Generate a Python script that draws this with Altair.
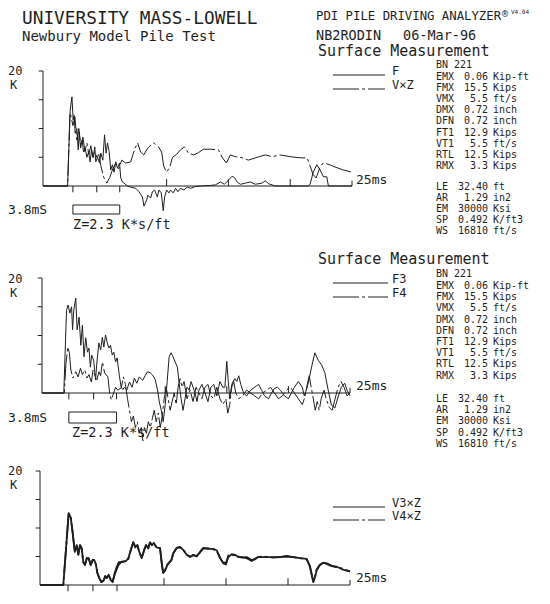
import altair as alt
import pandas as pd

# ---------------- data (time in ms, force in kips) ----------------
P1_F = [(0,0),(1.99,0),(2.20,13.2),(2.34,15.5),(2.44,11.5),(2.52,12.3),(2.60,9.2),(2.74,10),(2.85,6.3),
        (2.93,9.4),(3.04,6.6),(3.17,8),(3.28,5.9),(3.41,6.6),(3.55,5),(3.69,5.9),(3.81,4.2),(3.93,6.3),
        (4.06,4.9),(4.19,6.8),(4.27,4.2),(4.41,5),(4.57,4),(4.68,5.7),(4.84,4.5),(4.98,8.9),(5.10,5.7),
        (5.22,7.5),(5.35,6),(5.48,2.8),(5.62,3.7),(5.75,2.4),(5.89,4.2),(6.02,3.1),(6.19,4),(6.29,1.4),
        (6.43,0.7),(6.56,0.5),(6.83,0),(7.10,-0.2),(7.50,-0.4),(7.77,-1),(8.04,-1.9),(8.17,-3.5),(8.39,-2.4),
        (8.49,-1.6),(8.71,-2.1),(8.85,-1),(9.03,-0.7),(9.25,-1.9),(9.38,-0.7),(9.57,-1.2),(9.73,-4.3),
        (9.84,-1.9),(10.0,-0.7),(10.19,-1.2),(10.32,-0.7),(10.54,-1.2),(10.73,-0.4),(10.91,-1),(11.13,-0.4),
        (11.40,-0.7),(11.67,-0.2),(11.94,-0.4),(12.34,-0.1),(12.74,0),(13.55,0.1),(13.95,0.2),(14.35,0.7),
        (14.68,0.3),(15.0,1),(15.30,1.7),(15.51,1.4),(15.70,0.7),(15.97,0.3),(16.37,0.5),(16.77,0.7),
        (17.18,0.3),(17.72,0.5),(17.98,0.9),(18.25,0.4),(18.79,0),(20.0,0),(21.45,0),(21.61,0.3),
        (21.85,2.3),(22.15,3.7),(22.42,2.8),(22.69,1.6),(22.96,1.6),(23.09,0),(24.03,0),(25.0,0)]

P1_VZ = [(0,0),(1.99,0),(2.18,12.7),(2.26,12.2),(2.42,10.5),(2.58,12),(2.74,8),(2.90,10),(3.06,7),(3.23,8.5),
         (3.39,6),(3.55,7.5),(3.71,5.5),(3.87,7),(4.03,5),(4.19,6),(4.35,5),(4.52,5.5),(4.68,3.5),(4.92,1.5),
         (5.16,0.5),(5.40,1.5),(5.65,3),(5.89,4),(6.13,3),(6.37,4.5),(6.69,4),(7.10,4.2),(7.42,6.5),(7.66,7.5),
         (7.90,5.9),(8.15,5.4),(8.47,6.6),(8.95,7.5),(9.35,6.8),(9.60,5.9),(9.76,3.5),(10.0,2.4),(10.24,3.2),
         (10.48,5),(10.81,5.5),(11.13,6.3),(11.45,6.8),(11.77,5.7),(12.18,5.4),(12.58,5.8),(12.98,6.4),
         (13.55,6.4),(14.19,6.3),(14.52,4.9),(14.84,4),(15.16,5.4),(15.56,5.1),(16.13,4.9),(16.61,4.5),
         (17.34,5),(17.98,5.4),(18.55,5.1),(19.19,5.4),(20.0,5.1),(20.81,4.9),(21.37,4.9),(21.61,3.5),
         (21.85,2),(22.10,1.4),(22.42,3.3),(22.66,4),(23.06,3.8),(23.63,3.3),(24.27,2.8),(25.0,2.4)]

P2_F3 = [(0,0),(1.77,0),(1.99,14.4),(2.12,15.3),(2.26,13.9),(2.40,15),(2.48,11),(2.58,14.4),(2.74,16.5),
         (2.85,11),(3.01,13.2),(3.15,8.3),(3.28,11.8),(3.41,6.3),(3.55,9.6),(3.69,7.1),(3.81,7.8),(3.93,4.5),
         (4.03,6.6),(4.19,5.7),(4.35,2.3),(4.46,5.4),(4.62,8.7),(4.76,7.5),(4.90,9.7),(5.02,8),(5.16,10.1),
         (5.30,8.7),(5.43,7.8),(5.56,8.3),(5.70,6.6),(5.83,7.1),(5.97,5.4),(6.10,6.1),(6.29,2.8),(6.43,1),
         (6.56,0.6),(6.69,1),(6.88,0.5),(7.10,1.9),(7.31,1),(7.50,2.6),(7.69,1.7),(7.90,2.8),(8.17,2.2),
         (8.39,3.1),(8.57,3.7),(8.79,3.5),(8.98,3.1),(9.19,2.3),(9.38,0.5),(9.52,-1.5),(9.68,-3),(9.84,-5),
         (10.0,-2),(10.16,2),(10.32,6.3),(10.48,7),(10.60,6.5),(10.81,5.4),(10.99,4.5),(11.13,1.7),(11.29,-1),
         (11.45,-3),(11.61,-1),(11.77,1),(11.94,0.5),(12.10,2),(12.26,1),(12.42,0),(12.58,-1.5),(12.74,0.5),
         (12.98,1.5),(13.23,0),(13.47,-1.5),(13.71,1),(13.95,1.5),(14.19,-0.5),(14.44,2),(14.68,1),(14.84,1),
         (15.0,5.5),(15.12,2),(15.24,-1),(15.40,1.5),(15.65,2.5),(15.81,2),(15.97,3),(16.13,1.5),(16.37,0),
         (16.61,-0.5),(16.94,0.5),(17.26,1),(17.58,1.5),(17.82,0.5),(18.06,-0.5),(18.39,-1),(18.63,0),
         (18.87,0.8),(19.11,1),(19.35,0.5),(19.68,-0.5),(20.0,-1),(20.24,0),(20.48,1),(20.81,2),(21.13,1),
         (21.29,-0.5),(21.45,0.5),(21.61,1.7),(21.88,4.5),(22.15,7),(22.42,5.7),(22.69,4.9),(22.96,3.5),
         (23.23,0.5),(23.49,-2.1),(23.77,-2.6),(24.03,-0.7),(24.30,1),(24.57,1.7),(24.76,0.5),(25.0,-0.5)]

P2_F4 = [(0,0),(1.81,0),(1.94,5),(2.10,8),(2.22,7),(2.34,4),(2.52,2.6),(2.74,3.7),(2.93,2.8),(3.12,4.3),
         (3.28,3.2),(3.47,4),(3.65,2.6),(3.81,3.2),(4.01,1.9),(4.14,4),(4.33,2.8),(4.46,2.3),(4.62,3.7),
         (4.76,3),(4.90,5.4),(5.08,3.5),(5.35,2.8),(5.48,0.2),(5.62,-1.2),(5.75,-0.4),(5.97,1),(6.15,0.5),
         (6.43,0.9),(6.61,2.8),(6.77,1.5),(6.94,-1),(7.10,-3),(7.26,-5),(7.42,-4),(7.58,-6),(7.74,-5),
         (7.90,-7),(8.06,-6),(8.19,-8.3),(8.31,-6),(8.47,-7),(8.63,-5),(8.79,-6),(8.95,-4.5),(9.11,-3),
         (9.27,-5),(9.44,-3.5),(9.60,-6),(9.76,-4),(9.92,-1),(10.08,1),(10.24,-1),(10.40,-3),(10.56,-1.5),
         (10.73,0),(10.89,-2),(11.05,1),(11.21,2.5),(11.37,1),(11.53,2),(11.77,-1),(12.02,0.5),(12.26,-1.5),
         (12.50,1),(12.74,0),(12.98,-1),(13.23,1),(13.47,1.5),(13.71,-0.5),(13.95,-1),(14.19,1),(14.44,-1),
         (14.68,-2),(14.92,-1),(15.08,-3.5),(15.24,-2),(15.40,1),(15.56,2),(15.73,0),(15.97,-1),(16.29,-0.5),
         (16.61,0.5),(16.94,0),(17.26,-0.5),(17.58,-1),(17.90,0),(18.23,0.5),(18.55,1),(18.87,0),(19.19,-1),
         (19.52,-0.5),(19.84,0.5),(20.16,1),(20.48,0),(20.81,-1),(21.13,-2),(21.37,-0.5),(21.53,1.5),
         (21.69,3),(21.85,1),(22.02,-1),(22.18,-3),(22.34,-1.5),(22.50,-3),(22.66,-1),(22.90,0.5),(23.06,-1),
         (23.31,-2.5),(23.55,-3),(23.79,-1),(24.03,1),(24.27,2),(24.52,1),(24.76,-0.5),(25.0,0)]

P3_V3Z = [(0,0),(1.88,0),(2.31,12.6),(2.48,11.8),(2.64,9.1),(2.80,5.8),(2.96,7),(3.09,5.3),(3.23,7),(3.36,6.5),
          (3.49,4),(3.63,3.5),(3.77,4.7),(3.93,4.7),(4.09,3.5),(4.25,4.4),(4.38,4.4),(4.52,3.5),(4.62,2.1),
          (4.78,1.2),(4.94,0.5),(5.10,0.7),(5.27,1.6),(5.38,1.2),(5.54,1.8),(5.70,0.9),(5.86,0.5),(6.02,2.1),
          (6.19,3.2),(6.35,4),(6.59,4),(6.94,4.2),(7.12,4.7),(7.31,6.1),(7.52,7.5),(7.69,6.7),(7.85,7),
          (8.01,5.8),(8.20,4.7),(8.39,6.1),(8.55,7),(8.73,6.5),(8.87,7.5),(9.03,7),(9.19,7.4),(9.35,6.7),
          (9.52,6.5),(9.68,6.5),(9.84,3.5),(9.94,2.1),(10.10,2.6),(10.27,3.5),(10.43,3.9),(10.59,4.4),
          (10.75,5.6),(11.02,6.5),(11.29,6.7),(11.56,6.1),(11.83,5.3),(12.10,4.9),(12.36,5.3),(12.64,5.0),
          (12.90,5.8),(13.17,6.5),(13.44,6.4),(13.98,6.3),(14.25,6.1),(14.52,4.7),(14.78,3.9),(15.0,3.9),
          (15.19,4.9),(15.46,5.4),(15.73,5.3),(15.99,4.9),(16.27,4.9),(16.67,4.7),(17.07,4.2),(17.34,4.6),
          (17.60,4.9),(18.01,4.9),(18.41,4.9),(18.81,4.9),(19.35,4.9),(19.89,5.1),(20.43,4.9),(20.97,4.7),
          (21.51,4.6),(21.77,3.2),(21.91,1.8),(22.04,0.5),(22.18,1.4),(22.31,2.6),(22.58,3.5),(22.85,3.9),
          (23.12,3.7),(23.52,3.3),(23.93,3.2),(24.33,2.8),(24.73,2.5),(25.0,2.4)]

P3_V4Z = [(0,0),(1.88,0),(2.31,12.5),(2.48,11.9),(2.64,9.0),(2.80,5.9),(2.96,7),(3.09,5.4),(3.23,7),(3.36,6.4),
          (3.49,4),(3.63,3.6),(3.77,4.7),(3.93,4.6),(4.09,3.5),(4.25,4.4),(4.38,4.3),(4.52,3.5),(4.62,2.2),
          (4.78,1.2),(4.94,0.6),(5.10,0.7),(5.27,1.5),(5.38,1.2),(5.54,1.8),(5.70,0.9),(5.86,0.6),(6.02,1.8),
          (6.19,2.8),(6.35,3.6),(6.59,4.1),(6.94,4.2),(7.12,4.5),(7.31,6.0),(7.52,7.5),(7.69,6.6),(7.85,7),
          (8.01,5.8),(8.20,4.8),(8.39,6.0),(8.55,7),(8.73,6.4),(8.87,7.4),(9.03,7),(9.19,7.3),(9.35,6.8),
          (9.52,6.5),(9.68,6.4),(9.84,3.3),(9.94,2.0),(10.10,2.7),(10.27,3.6),(10.43,4.0),(10.59,4.3),
          (10.75,5.5),(11.02,6.5),(11.29,6.6),(11.56,6.2),(11.83,5.3),(12.10,5.0),(12.36,5.2),(12.64,5.1),
          (12.90,5.7),(13.17,6.4),(13.44,6.4),(13.98,6.3),(14.25,6.0),(14.52,4.8),(14.78,3.8),(15.0,3.6),
          (15.19,5.2),(15.46,5.3),(15.73,5.2),(15.99,5.0),(16.27,4.8),(16.67,4.9),(17.07,4.4),(17.34,4.5),
          (17.60,4.9),(18.01,5.0),(18.41,4.9),(18.81,4.8),(19.35,4.9),(19.89,5.0),(20.43,4.9),(20.97,4.7),
          (21.51,4.5),(21.77,3.3),(21.91,1.9),(22.04,0.6),(22.18,1.5),(22.31,2.7),(22.58,3.6),(22.85,3.9),
          (23.12,3.8),(23.52,3.4),(23.93,3.1),(24.33,2.9),(24.73,2.6),(25.0,2.4)]

Y_TICKS = [5, 10, 15, 20]
X_UP_TICKS = [10, 15, 20]
P1_MARKS = [2.42, 4.35, 6.21]
P2_MARKS = [2.18, 4.19, 6.05]
P3_MARKS = [2.26, 4.27, 6.21]

PARAM_LABELS = ["EMX", "FMX", "VMX", "DMX", "DFN", "FT1", "VT1", "RTL", "RMX"]
PARAM_VALUES = ["0.06", "15.5", "5.5", "0.72", "0.72", "12.9", "5.5", "12.5", "3.3"]
PARAM_UNITS = ["Kip-ft", "Kips", "ft/s", "inch", "inch", "Kips", "ft/s", "Kips", "Kips"]
PILE_LABELS = ["LE", "AR", "EM", "SP", "WS"]
PILE_VALUES = ["32.40", "1.29", "30000", "0.492", "16810"]
PILE_UNITS = ["ft", "in2", "Ksi", "K/ft3", "ft/s"]

# ---------------- styling ----------------
INK = "#1e1e1e"
FONT = "DejaVu Sans Mono"
OFF = 8  # page margin
DASH = [26, 3, 3, 3]
ONE = pd.DataFrame({"a": [0]})

layers = []


def scales(xr, yr):
    return (alt.Scale(domain=[0, 25], range=[xr[0] - OFF, xr[1] - OFF]),
            alt.Scale(domain=[0, 20], range=[yr[0] - OFF, yr[1] - OFF]))


def trace(data, xr, yr, dash=None, width=1.0):
    sx, sy = scales(xr, yr)
    df = pd.DataFrame(data, columns=["t", "v"])
    df["i"] = range(len(df))
    kw = dict(color=INK, strokeWidth=width, strokeJoin="round")
    if dash:
        kw["strokeDash"] = dash
    return alt.Chart(df).mark_line(**kw).encode(
        x=alt.X("t:Q", scale=sx, axis=None),
        y=alt.Y("v:Q", scale=sy, axis=None),
        order="i:Q")


def frame(xr, yr, marks):
    sx, sy = scales(xr, yr)
    segs = [(0, 0, 0, 20), (0, 25, 0, 0), (25, 25, 0, 0.9)]
    segs += [(0, -0.35, v, v) for v in Y_TICKS]
    segs += [(m, m, 0, -1.1) for m in marks]
    segs += [(t, t, 0, 1.2) for t in X_UP_TICKS]
    df = pd.DataFrame(segs, columns=["t", "t2", "v", "v2"])
    return alt.Chart(df).mark_rule(color=INK, strokeWidth=1).encode(
        x=alt.X("t:Q", scale=sx, axis=None), x2="t2:Q",
        y=alt.Y("v:Q", scale=sy, axis=None), y2="v2:Q")


def box(xr, t0, t1, ytop, ybot):
    sx, _ = scales(xr, (0, 1))
    df = pd.DataFrame({"t": [t0], "t2": [t1]})
    return alt.Chart(df).mark_rect(fill="white", fillOpacity=0, stroke=INK, strokeWidth=1).encode(
        x=alt.X("t:Q", scale=sx, axis=None), x2="t2:Q",
        y=alt.value(ytop - OFF), y2=alt.value(ybot - OFF))


def txt(s, x, y, size, align="left", baseline="middle", lh=None):
    kw = dict(font=FONT, fontSize=size, color=INK, align=align, baseline=baseline,
              x=x - OFF, y=y - OFF)
    if lh:
        kw["lineBreak"] = "\n"
        kw["lineHeight"] = lh
    return alt.Chart(ONE).mark_text(**kw).encode(text=alt.value(s))


def leg(x0, x1, y, dash=None):
    kw = dict(color=INK, strokeWidth=1)
    if dash:
        kw["strokeDash"] = dash
    return alt.Chart(ONE).mark_rule(**kw).encode(
        x=alt.value(x0 - OFF), x2=alt.value(x1 - OFF), y=alt.value(y - OFF))


def params(y_first, y_pile, lh):
    out = []
    s = 10
    cols = [(PARAM_LABELS, PILE_LABELS, 436, "left"),
            (PARAM_VALUES, PILE_VALUES, 488, "right"),
            (PARAM_UNITS, PILE_UNITS, 493, "left")]
    for top, bottom, x, al in cols:
        out.append(txt("\n".join(top), x, y_first, s, align=al, baseline="alphabetic", lh=lh))
        out.append(txt("\n".join(bottom), x, y_pile, s, align=al, baseline="alphabetic", lh=lh))
    return out


# ---------------- header ----------------
layers += [
    txt("UNIVERSITY MASS-LOWELL", 22, 19, 17.8),
    txt("Newbury Model Pile Test", 22, 36.5, 14),
    txt("PDI PILE DRIVING ANALYZER", 316, 16, 12.3),
    txt("®", 502, 14, 10),
    txt("V4.04", 511, 12, 6),
    txt("NB2RODIN", 316, 35.5, 13.5),
    txt("06-Mar-96", 403, 35.5, 13.5),
]

# ---------------- panel 1 ----------------
X1, Y1 = (43, 352), (186, 71)
layers += [
    frame(X1, Y1, P1_MARKS),
    trace(P1_F, X1, Y1),
    trace(P1_VZ, X1, Y1, dash=DASH),
    box(X1, P1_MARKS[0], P1_MARKS[2], 205, 214),
    txt("20", 8, 71, 12), txt("K", 10, 84.5, 12),
    txt("3.8mS", 8, 210, 13),
    txt("Z=2.3 K*s/ft", 73, 225, 13.5),
    txt("25ms", 356, 180, 13),
    txt("Surface Measurement", 318, 51, 15),
    txt("BN  221", 436, 64.5, 10),
    leg(333, 385, 75), txt("F", 392, 71, 12),
    leg(333, 385, 89, DASH), txt("V×Z", 392, 85, 12),
]
layers += params(80, 190, 11.1)

# ---------------- panel 2 ----------------
X2, Y2 = (42, 350), (393, 278)
layers += [
    frame(X2, Y2, P2_MARKS),
    trace(P2_F3, X2, Y2),
    trace(P2_F4, X2, Y2, dash=DASH),
    box(X2, P2_MARKS[0], P2_MARKS[2], 412, 423),
    txt("20", 8, 279, 12), txt("K", 10, 292.5, 12),
    txt("3.8mS", 8, 418, 13),
    txt("Z=2.3 K*s/ft", 72, 433, 13.5),
    txt("25ms", 356, 386, 13),
    txt("Surface Measurement", 318, 259, 15),
    txt("BN  221", 436, 273.5, 10),
    leg(333, 388, 283), txt("F3", 392, 279, 12),
    leg(333, 388, 297, DASH), txt("F4", 392, 293, 12),
]
layers += params(289, 402, 11.2)

# ---------------- panel 3 ----------------
X3, Y3 = (40, 350), (585, 471)
layers += [
    frame(X3, Y3, P3_MARKS),
    trace(P3_V3Z, X3, Y3, width=1.8),
    trace(P3_V4Z, X3, Y3, dash=DASH, width=1.8),
    txt("20", 8, 471, 12), txt("K", 10, 484.5, 12),
    txt("25ms", 356, 578, 13),
    leg(333, 385, 507), txt("V3×Z", 392, 503, 12),
    leg(333, 385, 520, DASH), txt("V4×Z", 392, 516, 12),
]

chart = alt.layer(*layers).resolve_scale(x="independent", y="independent").properties(
    width=534, height=588, padding=0,
    autosize=alt.AutoSizeParams(type="none"),
    background="white",
).configure_view(stroke=None)

chart.save("out.html", embed_options={"renderer": "svg", "actions": False})
